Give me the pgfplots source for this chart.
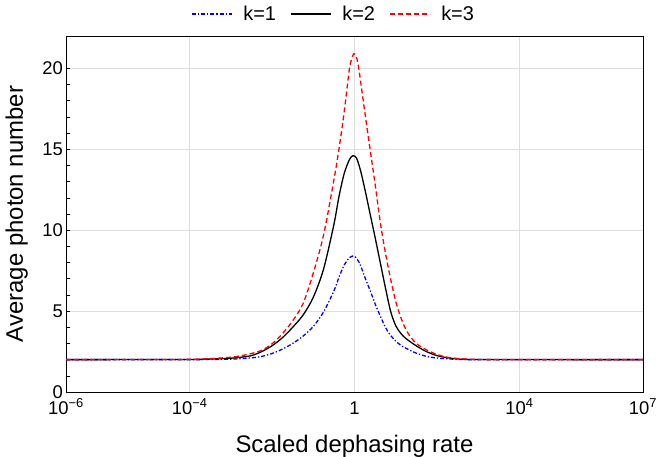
\documentclass[border=0pt]{standalone}
\usepackage{fontspec}
\setmainfont{Liberation Sans}
\usepackage{pgfplots}
\pgfplotsset{compat=1.18}

% x is log10 of the scaled dephasing rate
\pgfplotstableread{
u      n
-7     2.00
-4     2.00
-3.5   2.01
-3     2.03
-2.75  2.06
-2.5   2.11
-2.25  2.20
-2     2.38
-1.75  2.65
-1.5   3.00
-1.25  3.45
-1     4.05
-0.75  4.95
-0.5   6.25
-0.375 7.10
-0.25  7.85
-0.125 8.30
-0.05  8.40
0.02   8.35
0.125  7.95
0.25   7.10
0.375  6.30
0.5    5.45
0.625  4.70
0.75   4.00
0.875  3.50
1      3.15
1.125  2.88
1.25   2.70
1.5    2.40
1.75   2.20
2      2.10
2.25   2.05
2.5    2.02
3      2.00
7      2.00
}\kone

\pgfplotstableread{
u      n
-7     2.00
-4     2.01
-3.5   2.04
-3     2.09
-2.75  2.15
-2.5   2.25
-2.25  2.50
-2     2.86
-1.75  3.35
-1.5   4.00
-1.25  4.75
-1     5.85
-0.75  7.60
-0.5   10.35
-0.375 12.10
-0.25  13.50
-0.125 14.35
-0.04  14.60
0.05   14.45
0.15   13.65
0.25   12.55
0.375  11.05
0.5    9.55
0.625  8.00
0.75   6.45
0.875  5.00
1      4.10
1.125  3.62
1.25   3.30
1.5    2.85
1.75   2.49
2      2.25
2.25   2.12
2.5    2.05
3      2.01
7      2.00
}\ktwo

\pgfplotstableread{
u      n
-7     2.00
-4.5   2.01
-4     2.02
-3.5   2.06
-3     2.15
-2.75  2.24
-2.5   2.38
-2.25  2.58
-2     2.98
-1.75  3.60
-1.5   4.40
-1.25  5.45
-1     7.35
-0.75  9.70
-0.5   13.10
-0.375 15.05
-0.25  17.30
-0.125 19.95
-0.07  20.55
-0.02  20.90
0.04   20.75
0.1    20.05
0.25   17.30
0.375  15.05
0.5    12.85
0.625  10.50
0.75   8.60
0.875  7.00
1      5.60
1.125  4.60
1.25   3.85
1.375  3.35
1.5    3.00
1.625  2.78
1.75   2.60
2      2.32
2.25   2.15
2.5    2.07
2.75   2.03
3      2.01
3.5    2.00
7      2.00
}\kthree

\begin{document}
\begin{tikzpicture}
\begin{axis}[
  scale only axis, width=577bp, height=356bp,
  xmin=-7, xmax=7, ymin=0, ymax=22,
  xtick={-7,-4,0,4,7},
  xticklabels={10\textsuperscript{−6},10\textsuperscript{−4},1,10\textsuperscript{4},10\textsuperscript{7}},
  ytick={0,5,10,15,20}, yticklabels={0,5,10,15,20},
  minor y tick num=4,
  grid=major, major grid style={black!13, line width=0.6bp},
  tick align=inside, ytick pos=left,
  xtick style={draw=none},
  major tick length=3.5bp, minor tick length=3.5bp,
  ytick style={black, line width=0.6bp},
  axis line style={line width=0.9bp},
  tick label style={font=\fontsize{18.5}{20}\selectfont},
  xticklabel style={anchor=base, yshift=-22bp, inner sep=0pt},
  yticklabel style={anchor=east, inner sep=0pt, xshift=-3bp},
  xlabel={Scaled dephasing rate}, ylabel={Average photon number},
  label style={font=\fontsize{24}{28}\selectfont, inner sep=0pt},
  xlabel style={at={([yshift=-60bp]axis description cs:0.5,0)}, anchor=base},
  ylabel style={at={([xshift=-38bp]axis description cs:0,0.5)}, anchor=south},
  legend columns=-1,
  legend style={draw=none, fill=none, at={(0.5,1)}, anchor=center,
    xshift=-22bp, yshift=22bp, font=\fontsize{20}{22}\selectfont,
    nodes={inner xsep=0pt, inner ysep=1bp},
    /tikz/every odd column/.append style={column sep=11bp},
    /tikz/every even column/.append style={column sep=14bp}},
  legend image code/.code={\draw[#1] (0bp,0bp) -- (40bp,0bp);},
  every axis plot/.append style={smooth, tension=0.5, line width=1.3bp},
]
\addplot[blue, dash pattern=on 4bp off 2bp on 1.3bp off 2bp] table[x=u, y=n] {\kone};
\addlegendentry{k=1}
\addplot[black] table[x=u, y=n] {\ktwo};
\addlegendentry{k=2}
\addplot[red, dash pattern=on 5bp off 3bp] table[x=u, y=n] {\kthree};
\addlegendentry{k=3}
\end{axis}
\pgfresetboundingbox
\path[use as bounding box] (-66bp,-65bp) rectangle (593bp,392bp);
\end{tikzpicture}
\end{document}
